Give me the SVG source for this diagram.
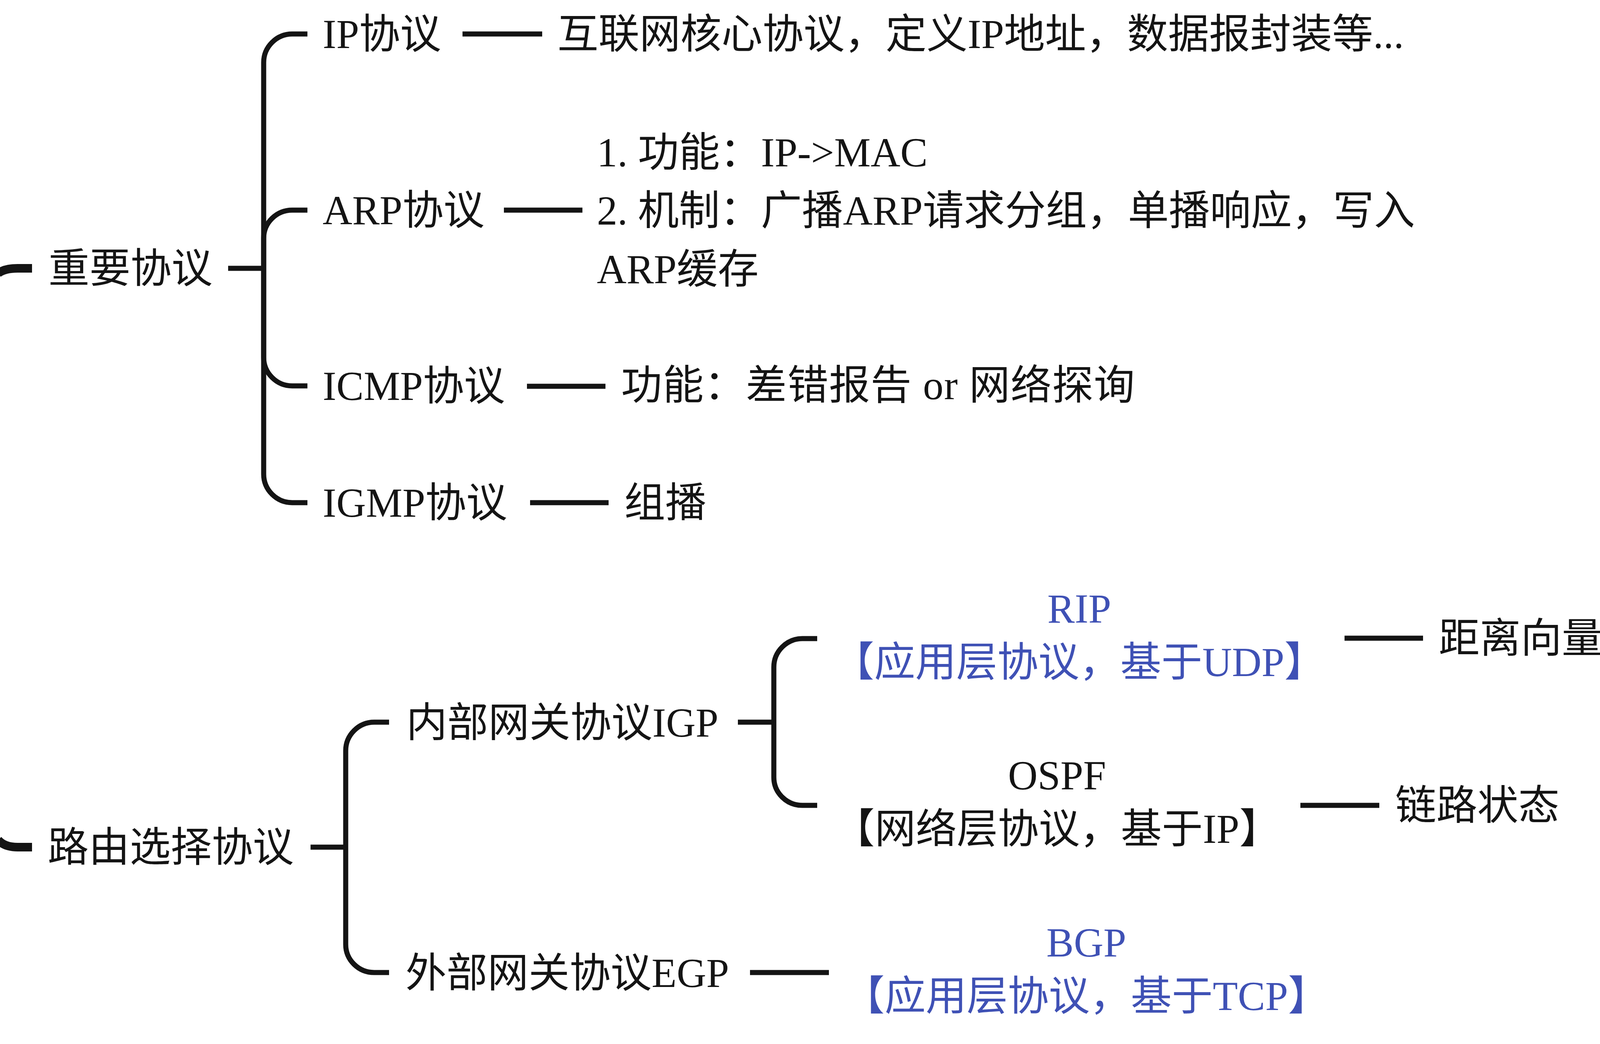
<svg xmlns="http://www.w3.org/2000/svg" width="6101" height="2673" viewBox="0 0 6101 2673">
<style>
.t{font-family:"Liberation Serif","Noto Sans CJK SC",serif;font-size:105px;fill:#141414}
.b{fill:#3F51B5}
.c{fill:none;stroke:#141414;stroke-width:13}
.r{stroke-width:22}
</style>
<rect width="6101" height="2673" fill="#ffffff"/>
<g id="connectors">
<path class="c r" d="M82 687 H45 C20 687 5 692 -5 700"/>
<path class="c r" d="M82 2169 H45 C20 2169 5 2162 -5 2150"/>
<path class="c" d="M584 687 H675"/>
<path class="c" d="M675 687 V160 C675 120 708 87 748 87 H787"/>
<path class="c" d="M675 687 V610 C675 570 708 538 748 538 H787"/>
<path class="c" d="M675 687 V915 C675 955 708 988 748 988 H787"/>
<path class="c" d="M675 687 V1214 C675 1254 708 1287 748 1287 H787"/>
<path class="c" d="M1184 87 H1388"/>
<path class="c" d="M1290 538 H1491"/>
<path class="c" d="M1349 989 H1550"/>
<path class="c" d="M1357 1287 H1558"/>
<path class="c" d="M795 2169 H885"/>
<path class="c" d="M885 2169 V1922 C885 1882 918 1849 958 1849 H996"/>
<path class="c" d="M885 2169 V2418 C885 2458 918 2490 958 2490 H996"/>
<path class="c" d="M1889 1849 H1981"/>
<path class="c" d="M1981 1849 V1708 C1981 1668 2014 1635 2054 1635 H2092"/>
<path class="c" d="M1981 1849 V1990 C1981 2030 2014 2062 2054 2062 H2092"/>
<path class="c" d="M1920 2490 H2122"/>
<path class="c" d="M3442 1634 H3643"/>
<path class="c" d="M4146 1634 H4348"/>
<path class="c" d="M3329 2062 H3531"/>
</g>
<g id="n-important"><text class="t" x="124" y="723">重要协议</text></g>
<g id="n-ip"><text class="t" x="826" y="123">IP协议</text></g>
<g id="n-ip-desc"><text class="t" x="1427" y="123">互联网核心协议，定义IP地址，数据报封装等...</text></g>
<g id="n-arp"><text class="t" x="826" y="574">ARP协议</text></g>
<g id="n-arp-desc">
<text class="t" x="1528" y="426">1. 功能：IP-&gt;MAC</text>
<text class="t" x="1528" y="575">2. 机制：广播ARP请求分组，单播响应，写入</text>
<text class="t" x="1528" y="725">ARP缓存</text>
</g>
<g id="n-icmp"><text class="t" x="826" y="1024">ICMP协议</text></g>
<g id="n-icmp-desc"><text class="t" x="1590" y="1022" textLength="1315" lengthAdjust="spacing">功能：差错报告 or 网络探询</text></g>
<g id="n-igmp"><text class="t" x="826" y="1323">IGMP协议</text></g>
<g id="n-igmp-desc"><text class="t" x="1598" y="1323">组播</text></g>
<g id="n-routing"><text class="t" x="122" y="2205">路由选择协议</text></g>
<g id="n-igp"><text class="t" x="1040" y="1886">内部网关协议IGP</text></g>
<g id="n-egp"><text class="t" x="1038" y="2527">外部网关协议EGP</text></g>
<g id="n-rip" text-anchor="middle">
<text class="t b" x="2763" y="1594">RIP</text>
<text class="t b" x="2763" y="1731">【应用层协议，基于UDP】</text>
</g>
<g id="n-ospf" text-anchor="middle">
<text class="t" x="2706" y="2021">OSPF</text>
<text class="t" x="2706" y="2158">【网络层协议，基于IP】</text>
</g>
<g id="n-bgp" text-anchor="middle">
<text class="t b" x="2781" y="2449">BGP</text>
<text class="t b" x="2781" y="2586">【应用层协议，基于TCP】</text>
</g>
<g id="n-dv"><text class="t" x="3683" y="1670">距离向量</text></g>
<g id="n-dv-desc"><text class="t" x="4388" y="1670">选择跳数最少的，跳数16表不可达</text></g>
<g id="n-ls"><text class="t" x="3572" y="2098">链路状态</text></g>
</svg>
